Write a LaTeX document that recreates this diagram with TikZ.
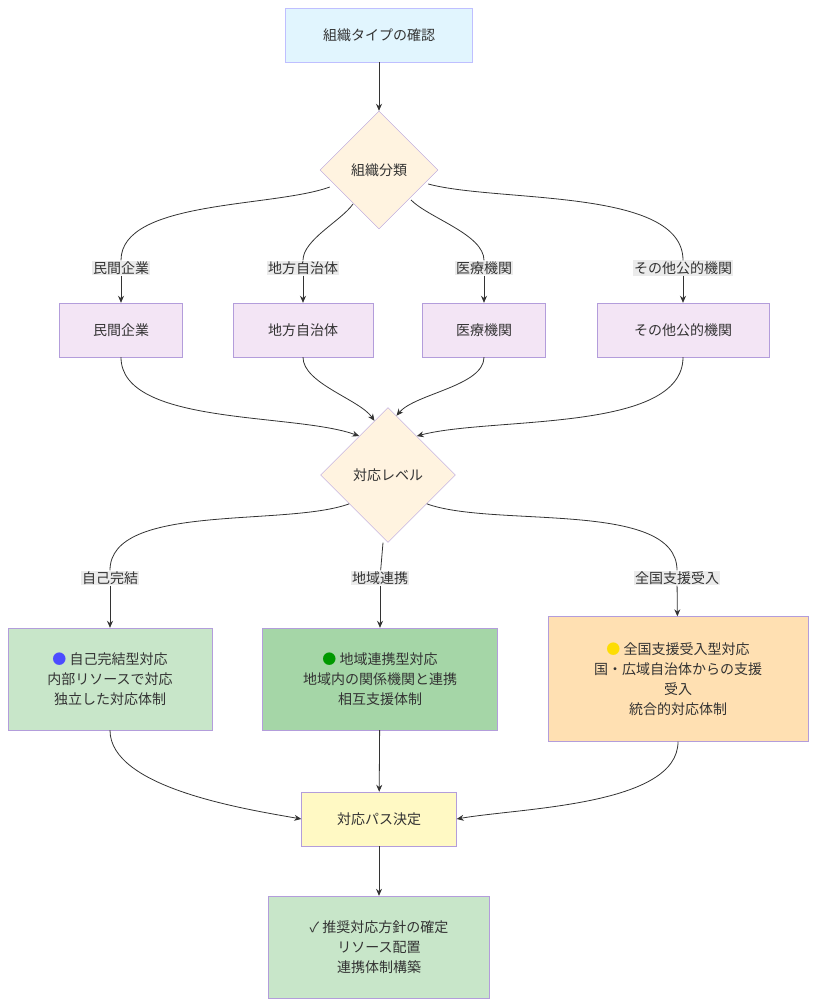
\documentclass[tikz,border=0pt]{standalone}
\usepackage{fontspec}
\setmainfont{Noto Sans CJK JP}
\usetikzlibrary{shapes.geometric,arrows.meta,calc}
\definecolor{lnc}{HTML}{333333}
\definecolor{bdr}{HTML}{B39DDB}
\definecolor{startc}{HTML}{E1F5FE}
\definecolor{orgc}{HTML}{F3E5F5}
\definecolor{diac}{HTML}{FFF3E0}
\definecolor{selfc}{HTML}{C8E6C9}
\definecolor{areac}{HTML}{A5D6A7}
\definecolor{natc}{HTML}{FFE0B2}
\definecolor{pathc}{HTML}{FFF9C4}
\begin{document}
\begin{tikzpicture}[x=1pt,y=-1pt,
  every node/.style={font=\fontsize{14}{20}\selectfont,text=lnc,align=center},
  box/.style={draw=bdr,minimum height=54pt,inner sep=0pt},
  dia/.style={diamond,draw=bdr,fill=diac,minimum width=118pt,minimum height=118pt,inner sep=0pt},
  lbl/.style={fill=black!8,inner sep=1pt},
  con/.style={draw=lnc,line width=0.8pt,looseness=0.7},
  arr/.style={con,-{Stealth[length=7pt,width=6pt]}}]
\useasboundingbox (0,0) rectangle (816,1006);
\node[box,fill=startc,draw=blue!25,minimum width=187pt] (start) at (379,35) {組織タイプの確認};
\node[dia] (cls) at (379,170) {組織分類};
\node[lbl] (l1) at (121,268) {民間企業};
\node[lbl] (l2) at (303,268) {地方自治体};
\node[lbl] (l3) at (484,268) {医療機関};
\node[lbl] (l4) at (683,268) {その他公的機関};
\node[box,fill=orgc,minimum width=123pt] (priv) at (121,330) {民間企業};
\node[box,fill=orgc,minimum width=140pt] (local) at (303,330) {地方自治体};
\node[box,fill=orgc,minimum width=123pt] (med) at (484,330) {医療機関};
\node[box,fill=orgc,minimum width=172pt] (pub) at (683,330) {その他公的機関};
\node[dia,minimum width=135pt,minimum height=135pt] (lvl) at (388,475) {対応レベル};
\node[lbl] (m1) at (110,578) {自己完結};
\node[lbl] (m2) at (380,578) {地域連携};
\node[lbl] (m3) at (677,578) {全国支援受入};
\node[box,fill=selfc,minimum width=204pt,minimum height=102pt] (self) at (110,679)
  {{\color{blue!70}●} 自己完結型対応\\内部リソースで対応\\独立した対応体制};
\node[box,fill=areac,minimum width=235pt,minimum height=102pt] (area) at (380,679)
  {{\color{green!60!black}●} 地域連携型対応\\地域内の関係機関と連携\\相互支援体制};
\node[box,fill=natc,minimum width=260pt,minimum height=125pt] (nat) at (678,679)
  {{\color{yellow!80!orange}●} 全国支援受入型対応\\国・広域自治体からの支援\\受入\\統合的対応体制};
\node[box,fill=pathc,minimum width=155pt] (path) at (379,819) {対応パス決定};
\node[box,fill=selfc,minimum width=221pt,minimum height=102pt] (final) at (379,947)
  {✓ 推奨対応方針の確定\\リソース配置\\連携体制構築};
% edges
\draw[arr] (start) -- (cls);
\draw[con] (cls.west) ++(10,17) to[out=200,in=90] (l1);
\draw[con] (cls) ++(-26,34) to[out=235,in=90] (l2);
\draw[con] (cls) ++(32,30) to[out=-45,in=90] (l3);
\draw[con] (cls.east) ++(-10,14) to[out=-15,in=90] (l4);
\draw[arr] (l1) -- (priv); \draw[arr] (l2) -- (local);
\draw[arr] (l3) -- (med); \draw[arr] (l4) -- (pub);
\draw[arr] (priv.south) to[out=-90,in=160] ($(lvl.north west)!0.15!(lvl.north)$);
\draw[arr] (local.south) to[out=-90,in=125] ($(lvl.north west)!0.6!(lvl.north)$);
\draw[arr] (med.south) to[out=-90,in=50] ($(lvl.north east)!0.75!(lvl.north)$);
\draw[arr] (pub.south) to[out=-90,in=15] ($(lvl.north east)!0.15!(lvl.north)$);
\draw[con] (lvl.south west) ++(-5,-5) to[out=200,in=90] (m1);
\draw[con] (lvl.south) ++(-5,0) -- (m2);
\draw[con] (lvl.south east) ++(5,-5) to[out=-20,in=90] (m3);
\draw[arr] (m1) -- (self); \draw[arr] (m2) -- (area); \draw[arr] (m3) -- (nat);
\draw[arr] (self.south) to[out=-90,in=170] (path.west);
\draw[arr] (area) -- (path);
\draw[arr] (nat.south) to[out=-90,in=10] (path.east);
\draw[arr] (path) -- (final);
\end{tikzpicture}
\end{document}
